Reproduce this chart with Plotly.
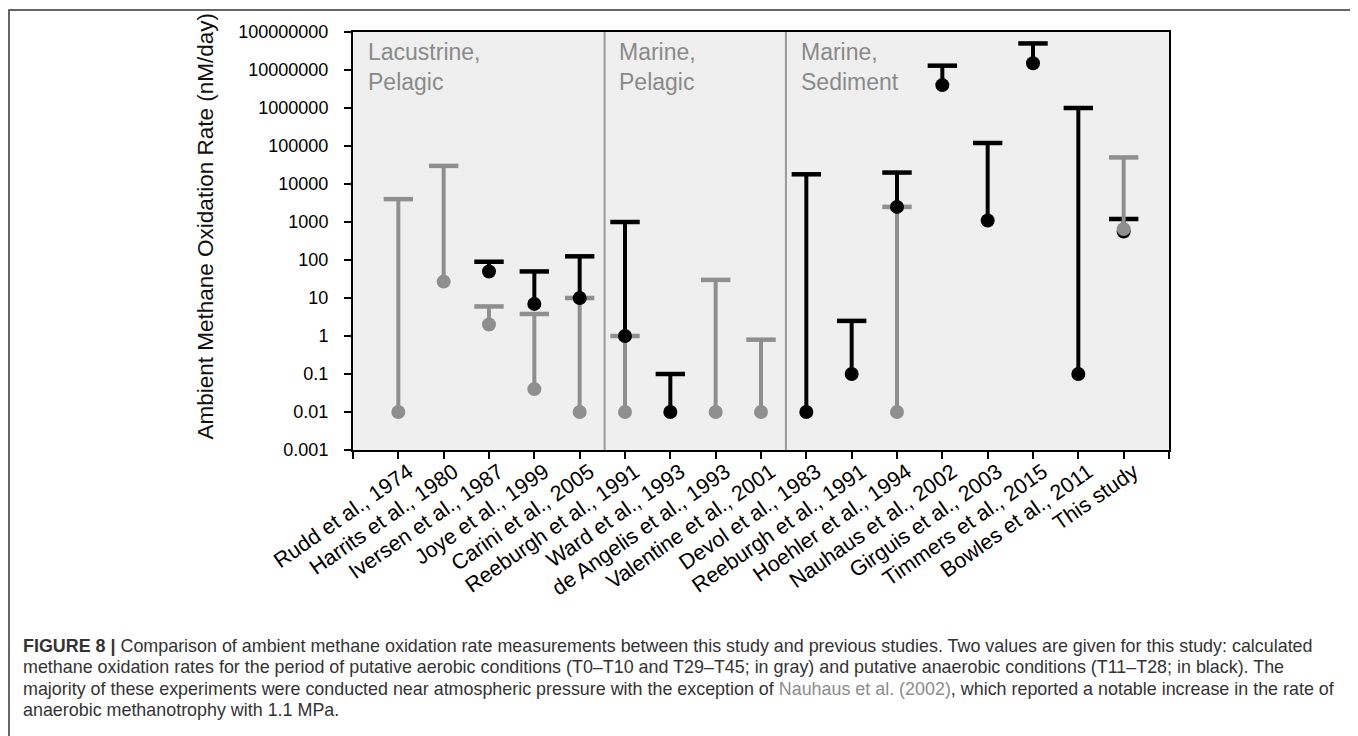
import plotly.graph_objects as go

# ---------------- data ----------------
studies = ["Rudd et al., 1974", "Harrits et al., 1980", "Iversen et al., 1987", "Joye et al., 1999",
           "Carini et al., 2005", "Reeburgh et al., 1991", "Ward et al., 1993", "de Angelis et al., 1993",
           "Valentine et al., 2001", "Devol et al., 1983", "Reeburgh et al., 1991", "Hoehler et al., 1994",
           "Nauhaus et al., 2002", "Girguis et al., 2003", "Timmers et al., 2015", "Bowles et al., 2011",
           "This study"]
positions = list(range(1, len(studies) + 1))

# aerobic (gray) ranges
gray_low = [0.01, 27, 2, 0.04, 0.01, 0.01, None, 0.01, 0.01, None, None, 0.01, None, None, None, None, 650]
gray_high = [4000, 30000, 6, 3.8, 10, 1, None, 30, 0.8, None, None, 2500, None, None, None, None, 50000]
# anaerobic (black) ranges
black_low = [None, None, 50, 7, 10, 1, 0.01, None, None, 0.01, 0.1, 2500, 4000000, 1100, 15000000, 0.1, 560]
black_high = [None, None, 90, 50, 125, 1000, 0.1, None, None, 18000, 2.5, 20000, 13000000, 120000, 50000000, 1000000, 1200]

group_labels = ["Lacustrine,<br>Pelagic", "Marine,<br>Pelagic", "Marine,<br>Sediment"]
group_starts = [0, 5.55, 9.55]
separators = [5.55, 9.55]

ytick_vals = [0.001, 0.01, 0.1, 1, 10, 100, 1000, 10000, 100000, 1000000, 10000000, 100000000]
ytick_text = ["0.001", "0.01", "0.1", "1", "10", "100", "1000", "10000", "100000",
              "1000000", "10000000", "100000000"]

caption_lines = [
    "<b>FIGURE 8 |</b> Comparison of ambient methane oxidation rate measurements between this study and previous studies. Two values are given for this study: calculated",
    "methane oxidation rates for the period of putative aerobic conditions (T0–T10 and T29–T45; in gray) and putative anaerobic conditions (T11–T28; in black). The",
    "majority of these experiments were conducted near atmospheric pressure with the exception of <span style='color:#8c8c8c'>Nauhaus et al. (2002)</span>, which reported a notable increase in the rate of",
    "anaerobic methanotrophy with 1.1 MPa.",
]

# ---------------- style ----------------
GRAY = "#8f8f8f"
BLACK = "#000000"
OFF = 8  # page body margin
W, H = 1350, 728
L, R, T, B = 345, 189, 24, 286
PW, PH = W - L - R, H - T - B
FONT = "Liberation Sans, Arial, Helvetica, sans-serif"


def pxx(px):  # window px -> paper
    return (px - OFF - L) / PW


def pxy(py):
    return (H - B - (py - OFF)) / PH


fig = go.Figure()


def add_series(idx, low, high, color):
    xs, ys = [], []
    cx, cy, dx, dy = [], [], [], []
    for i in idx:
        if low[i] is None:
            continue
        xs += [positions[i], positions[i], None]
        ys += [low[i], high[i], None]
        cx.append(positions[i]); cy.append(high[i])
        dx.append(positions[i]); dy.append(low[i])
    fig.add_trace(go.Scatter(x=xs, y=ys, mode="lines", line=dict(color=color, width=4),
                             showlegend=False, hoverinfo="skip"))
    fig.add_trace(go.Scatter(x=cx, y=cy, mode="markers",
                             marker=dict(symbol="line-ew", size=21, line=dict(color=color, width=4.5)),
                             showlegend=False))
    fig.add_trace(go.Scatter(x=dx, y=dy, mode="markers",
                             marker=dict(symbol="circle", size=14, color=color, line=dict(width=0)),
                             showlegend=False))


n = len(studies)
add_series(range(n - 1), gray_low, gray_high, GRAY)
add_series(range(n), black_low, black_high, BLACK)
add_series([n - 1], gray_low, gray_high, GRAY)

shapes = []
for s in separators:
    shapes.append(dict(type="line", xref="x", yref="paper", x0=s, x1=s, y0=0, y1=1,
                       line=dict(color="#999999", width=2), layer="above"))
# outer figure frame
shapes.append(dict(type="rect", xref="paper", yref="paper", x0=pxx(9), x1=pxx(1355),
                   y0=pxy(760), y1=pxy(10), line=dict(color="#333333", width=1.5)))

annotations = []
for gs, gl in zip(group_starts, group_labels):
    annotations.append(dict(x=gs + 0.28, y=pxy(37), xref="x", yref="paper", text=gl, showarrow=False,
                            xanchor="left", yanchor="top", align="left",
                            font=dict(family=FONT, size=23, color="#8a8a8a")))
annotations.append(dict(x=pxx(190), y=pxy(227), xref="paper", yref="paper",
                        text="Ambient Methane Oxidation Rate (nM/day)", textangle=-90, showarrow=False,
                        font=dict(family=FONT, size=22.5, color="#111111")))
for k, line in enumerate(caption_lines):
    annotations.append(dict(x=pxx(21), y=pxy(646 + 21.4 * k), xref="paper", yref="paper", text=line,
                            showarrow=False, xanchor="left", yanchor="middle", align="left",
                            font=dict(family=FONT, size=17.9, color="#333333")))

fig.update_layout(
    width=W, height=H,
    margin=dict(l=L, r=R, t=T, b=B, autoexpand=False),
    paper_bgcolor="white", plot_bgcolor="#efefef",
    shapes=shapes, annotations=annotations, showlegend=False,
    font=dict(family=FONT, color="black"),
)
fig.update_xaxes(range=[0, 18], tickmode="array", tickvals=list(range(0, 19)),
                 ticktext=[""] + studies + [""], tickangle=-35,
                 tickfont=dict(family=FONT, size=21.5, color="black"),
                 ticks="outside", ticklen=7, tickwidth=2, tickcolor="black",
                 showline=True, linecolor="black", linewidth=2, mirror=True,
                 showgrid=False, zeroline=False, ticklabelshift=10, ticklabelstandoff=-8)
fig.update_yaxes(type="log", range=[-3, 8], tickmode="array", tickvals=ytick_vals, ticktext=ytick_text,
                 tickfont=dict(family=FONT, size=18, color="black"),
                 ticks="outside", ticklen=7, tickwidth=2, tickcolor="black",
                 showline=True, linecolor="black", linewidth=2, mirror=True,
                 showgrid=False, zeroline=False, ticklabelstandoff=12)

fig.write_html("out.html")
